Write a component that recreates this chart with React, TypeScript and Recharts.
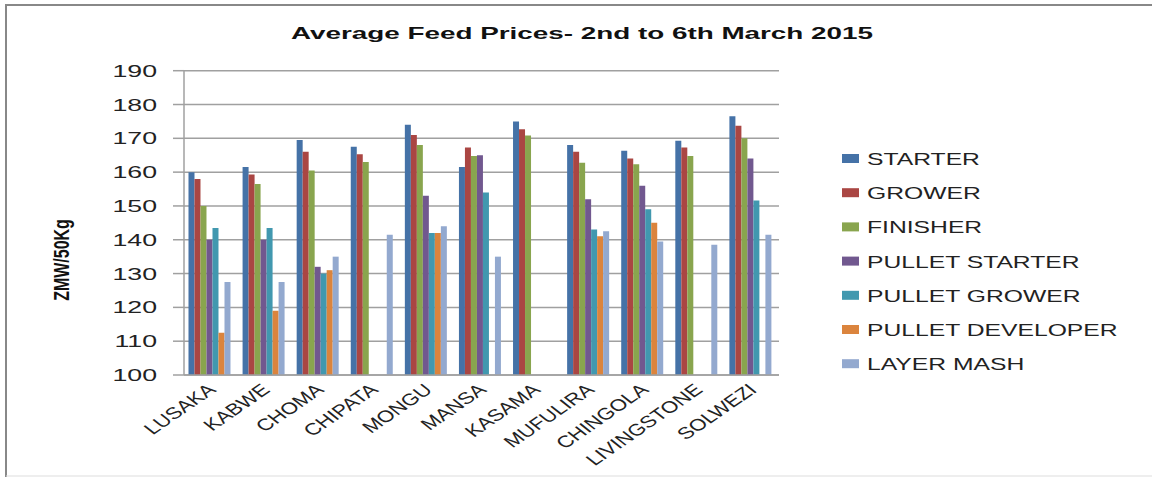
import React from 'react';
import { BarChart, Bar, XAxis, YAxis, CartesianGrid, Legend } from 'recharts';

const cities = ['LUSAKA', 'KABWE', 'CHOMA', 'CHIPATA', 'MONGU', 'MANSA', 'KASAMA', 'MUFULIRA', 'CHINGOLA', 'LIVINGSTONE', 'SOLWEZI'];
const starter = [160, 161.5, 169.5, 167.5, 174, 161.5, 175, 168, 166.3, 169.3, 176.5];
const grower = [158, 159.3, 166, 165.3, 171, 167.3, 172.7, 166, 164, 167.3, 173.7];
const finisher = [150, 156.5, 160.5, 163, 168, 164.8, 170.8, 162.8, 162.3, 164.8, 170];
const pulletStarter = [140, 140, 132, null, 153, 165, null, 152, 156, null, 164];
const pulletGrower = [143.5, 143.5, 130, null, 142, 154, null, 143, 149, null, 151.6];
const pulletDeveloper = [112.5, 119, 131, null, 142, null, null, 141, 145, null, null];
const layerMash = [127.5, 127.5, 135, 141.5, 144, 135, null, 142.5, 139.5, 138.5, 141.5];
const yTicks = [100, 110, 120, 130, 140, 150, 160, 170, 180, 190];

const seriesNames = ['STARTER', 'GROWER', 'FINISHER', 'PULLET STARTER', 'PULLET GROWER', 'PULLET DEVELOPER', 'LAYER MASH'];
const seriesValues = [starter, grower, finisher, pulletStarter, pulletGrower, pulletDeveloper, layerMash];
const seriesColors = ['#4572A7', '#AA4643', '#89A54E', '#71588F', '#4198AF', '#DB843D', '#93A9CF'];
const seriesKeys = ['s0', 's1', 's2', 's3', 's4', 's5', 's6'];

const data = cities.map((c, i) => {
  const row: Record<string, any> = { city: c };
  seriesKeys.forEach((k, j) => {
    row[k] = seriesValues[j][i];
  });
  return row;
});

const FONT = 'Liberation Sans, Arial, sans-serif';

const YTick = (props: any) => {
  const { x, y, payload } = props;
  return (
    <g transform={`translate(${x - 16},${y + 6}) scale(1.62,1)`}>
      <text x={0} y={0} textAnchor="end" fontFamily={FONT} fontSize={16.5} fill="#222">
        {payload.value}
      </text>
    </g>
  );
};

const XTick = (props: any) => {
  const { x, y, payload } = props;
  return (
    <g transform={`translate(${x + 6},${y + 8}) scale(1.35,1) rotate(-43)`}>
      <text x={0} y={0} textAnchor="end" fontFamily={FONT} fontSize={16.5} fill="#222">
        {payload.value}
      </text>
    </g>
  );
};

const LegendContent = () => (
  <svg width={310} height={240}>
    {seriesNames.map((n, i) => (
      <g key={n} transform={`translate(0,${i * 34.2})`}>
        <rect x={12} y={4} width={17} height={9} fill={seriesColors[i]} />
        <g transform="translate(37,15) scale(1.47,1)">
          <text x={0} y={0} fontFamily={FONT} fontSize={16.8} fill="#222">{n}</text>
        </g>
      </g>
    ))}
  </svg>
);

export default function App() {
  return (
    <div style={{ position: 'absolute', left: 0, top: 0, width: 1152, height: 477, background: '#fff' }}>
      <BarChart
        width={1152}
        height={477}
        data={data}
        margin={{ top: 70.7, right: 373, bottom: 42, left: 124 }}
        barCategoryGap="8.3%"
        barGap={0}
      >
        <CartesianGrid horizontal vertical={false} stroke="#A0A0A0" strokeWidth={1.5} />
        <XAxis
          dataKey="city"
          height={60}
          interval={0}
          tickLine={false}
          axisLine={{ stroke: '#A0A0A0', strokeWidth: 1.5 }}
          tick={<XTick />}
        />
        <YAxis
          width={60}
          domain={[100, 190]}
          ticks={yTicks}
          interval={0}
          tickSize={11}
          tickMargin={0}
          tickLine={{ stroke: '#A0A0A0', strokeWidth: 1.5 }}
          axisLine={{ stroke: '#A0A0A0', strokeWidth: 1.5 }}
          tick={<YTick />}
        />
        <Legend
          layout="vertical"
          align="center"
          verticalAlign="middle"
          content={<LegendContent />}
          wrapperStyle={{ left: 830, top: 150, width: 310, height: 240 }}
        />
        {seriesKeys.map((k, j) => (
          <Bar key={k} dataKey={k} name={seriesNames[j]} fill={seriesColors[j]} isAnimationActive={false} />
        ))}
      </BarChart>
      <svg width={1152} height={477} style={{ position: 'absolute', left: 0, top: 0, pointerEvents: 'none' }}>
        <line x1={6} y1={5} x2={1152} y2={5} stroke="#888" strokeWidth={2} />
        <line x1={6} y1={4} x2={6} y2={477} stroke="#888" strokeWidth={2} />
        <line x1={6} y1={476} x2={1152} y2={476} stroke="#DDD" strokeWidth={1} />
        <text x={291} y={39} textLength={582} lengthAdjust="spacingAndGlyphs" fontFamily={FONT} fontWeight="bold" fontSize={17} fill="#111">
          Average Feed Prices- 2nd to 6th March 2015
        </text>
        <g transform="translate(69,260) scale(1.4,1) rotate(-90)">
          <text x={0} y={0} textAnchor="middle" fontFamily={FONT} fontWeight="bold" fontSize={16} fill="#111">
            ZMW/50Kg
          </text>
        </g>
      </svg>
    </div>
  );
}
